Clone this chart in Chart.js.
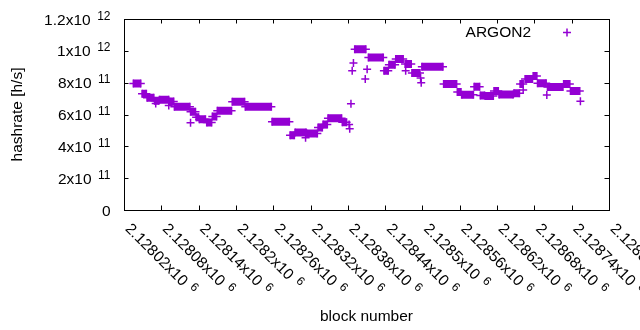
<!DOCTYPE html>
<html>
<head>
<meta charset="utf-8">
<script src="https://cdn.jsdelivr.net/npm/chart.js@4.4.1/dist/chart.umd.min.js"></script>
<style>
  html, body { margin:0; padding:0; background:#fff; }
  canvas { display:block; }
</style>
</head>
<body>
<canvas id="hashChart" width="640" height="330"></canvas>
<script>
// runs of blocks sharing one hashrate value (they merge into solid bars)
const runStart = [2128035,2128049,2128057,2128069,2128077,2128093,2128101,2128127,2128136,2128141,
  2128153,2128162,2128170,2128194,2128215,2128258,2128287,2128295,2128314,2128332,
  2128340,2128348,2128371,2128391,2128413,2128438,2128446,2128457,2128472,2128483,
  2128499,2128534,2128556,2128563,2128583,2128593,2128601,2128615,2128623,2128647,
  2128657,2128665,2128678,2128685,2128701,2128727,2128738];
const runEnd = [2128047,2128056,2128068,2128076,2128092,2128100,2128126,2128135,2128140,2128151,
  2128161,2128169,2128193,2128214,2128257,2128286,2128294,2128313,2128331,2128339,
  2128347,2128370,2128378,2128409,2128437,2128445,2128456,2128469,2128482,2128496,
  2128533,2128555,2128562,2128582,2128592,2128600,2128614,2128622,2128646,2128656,
  2128662,2128677,2128684,2128699,2128726,2128737,2128753];
const runRate = [7.95e11,7.3e11,7.05e11,6.86e11,6.92e11,6.81e11,6.48e11,6.17e11,5.83e11,5.7e11,
  5.5e11,5.87e11,6.23e11,6.8e11,6.48e11,5.55e11,4.69e11,4.87e11,4.81e11,5.19e11,
  5.37e11,5.77e11,5.52e11,1.01e12,9.58e11,8.75e11,9.13e11,9.48e11,9.17e11,8.6e11,
  9.0e11,7.92e11,7.42e11,7.24e11,7.75e11,7.19e11,7.17e11,7.48e11,7.25e11,7.33e11,
  7.92e11,8.23e11,8.42e11,7.96e11,7.73e11,7.92e11,7.48e11];

// single blocks away from the bars
const dotBlock = [2128071,2128092,2128127,2128312,2128382,2128383,2128385,2128387,2128389,
  2128408,2128411,2128473,2128497,2128498,2128662,2128700,2128754];
const dotRate = [6.69e11,6.56e11,5.48e11,4.54e11,5.37e11,5.1e11,6.67e11,8.75e11,9.23e11,
  8.23e11,8.85e11,8.75e11,8.29e11,8.0e11,7.54e11,7.23e11,6.83e11];

const xTickValues = [2128020,2128080,2128140,2128200,2128260,2128320,2128380,
  2128440,2128500,2128560,2128620,2128680,2128740,2128800];
const xTickText = ["2.12802x10","2.12808x10","2.12814x10","2.1282x10","2.12826x10","2.12832x10","2.12838x10",
  "2.12844x10","2.1285x10","2.12856x10","2.12862x10","2.12868x10","2.12874x10","2.1288x10"];
const xTickExp = "6";

const yTickValues = [0,2e11,4e11,6e11,8e11,1e12,1.2e12];
const yTickText = ["0","2x10","4x10","6x10","8x10","1x10","1.2x10"];
const yTickExp = ["","11","11","11","11","12","12"];

const seriesName = "ARGON2";
const purple = "#9400D3";
const FONT = '"Liberation Sans", Arial, sans-serif';

function buildRunPoints(){
  const points = [];
  runStart.forEach((start,i) => {
    points.push({ x:start, y:runRate[i] });
    points.push({ x:runEnd[i], y:runRate[i] });
    points.push({ x:runEnd[i], y:null });
  });
  return points;
}

function drawCross(ctx, x, y, r){
  ctx.beginPath();
  ctx.moveTo(x - r, y); ctx.lineTo(x + r, y);
  ctx.moveTo(x, y - r); ctx.lineTo(x, y + r);
  ctx.stroke();
}

const gnuplotFrame = {
  id:"gnuplotFrame",
  afterDraw(chart){
    const { ctx, chartArea:a, scales } = chart;
    const xs = scales.x, ys = scales.y;
    const tick = 4.5;

    ctx.save();
    ctx.strokeStyle = "#000";
    ctx.lineWidth = 1;
    ctx.strokeRect(a.left + 0.5, a.top + 0.5, a.right - a.left, a.bottom - a.top);

    ctx.beginPath();
    yTickValues.forEach(v => {
      const py = Math.round(ys.getPixelForValue(v)) + 0.5;
      ctx.moveTo(a.left, py); ctx.lineTo(a.left + tick, py);
      ctx.moveTo(a.right, py); ctx.lineTo(a.right - tick, py);
    });
    xTickValues.forEach(v => {
      const px = Math.round(xs.getPixelForValue(v)) + 0.5;
      ctx.moveTo(px, a.bottom); ctx.lineTo(px, a.bottom - tick);
      ctx.moveTo(px, a.top); ctx.lineTo(px, a.top + tick);
    });
    ctx.stroke();

    ctx.fillStyle = "#000";

    // y tick labels, right aligned, with raised exponent
    yTickValues.forEach((v,i) => {
      const py = ys.getPixelForValue(v);
      const right = a.left - 13.5;
      ctx.textAlign = "right";
      ctx.textBaseline = "alphabetic";
      if(yTickExp[i]){
        ctx.font = "12px " + FONT;
        ctx.fillText(yTickExp[i], right, py + 0.5);
        const w = ctx.measureText(yTickExp[i]).width;
        ctx.font = "15.5px " + FONT;
        ctx.fillText(yTickText[i], right - w - 6.5, py + 5.5);
      } else {
        ctx.font = "15.5px " + FONT;
        ctx.fillText(yTickText[i], right, py + 5.5);
      }
    });

    // x tick labels hanging down to the right
    xTickValues.forEach((v,i) => {
      const px = xs.getPixelForValue(v);
      ctx.save();
      ctx.translate(px + 0.5, a.bottom + 19.5);
      ctx.rotate(Math.PI / 4);
      ctx.textAlign = "left";
      ctx.textBaseline = "alphabetic";
      ctx.font = "15.5px " + FONT;
      ctx.fillText(xTickText[i], 0, 0);
      const w = ctx.measureText(xTickText[i]).width;
      ctx.font = "12px " + FONT;
      ctx.fillText(xTickExp, w + 6, -5);
      ctx.restore();
    });

    // axis titles
    ctx.font = "15.5px " + FONT;
    ctx.textAlign = "center";
    ctx.textBaseline = "alphabetic";
    ctx.fillText("block number", (a.left + a.right) / 2, 320.5);

    ctx.save();
    ctx.translate(22, (a.top + a.bottom) / 2);
    ctx.rotate(-Math.PI / 2);
    ctx.fillText("hashrate [h/s]", 0, 0);
    ctx.restore();

    // key
    ctx.textAlign = "right";
    ctx.fillText(seriesName, 531, 37);
    ctx.strokeStyle = purple;
    ctx.lineWidth = 1.5;
    drawCross(ctx, 567, 32.5, 4);

    ctx.restore();
  }
};

function renderChart(){
  const ctx = document.getElementById("hashChart").getContext("2d");

  new Chart(ctx,{
    type:"scatter",
    data:{
      datasets:[
        {
          label:seriesName,
          data:buildRunPoints(),
          showLine:true,
          spanGaps:false,
          borderColor:purple,
          borderWidth:8,
          borderCapStyle:"butt",
          pointStyle:"cross",
          pointRadius:4,
          pointBorderWidth:1.5,
          pointBorderColor:purple,
          pointBackgroundColor:purple
        },
        {
          label:seriesName + " single",
          data:dotBlock.map((b,i) => ({ x:b, y:dotRate[i] })),
          showLine:false,
          pointStyle:"cross",
          pointRadius:4,
          pointBorderWidth:1.5,
          pointBorderColor:purple,
          pointBackgroundColor:purple
        }
      ]
    },
    options:{
      responsive:false,
      animation:false,
      layout:{ padding:{ left:124, right:31, top:19, bottom:120 } },
      plugins:{
        legend:{ display:false },
        tooltip:{ enabled:false }
      },
      scales:{
        x:{ type:"linear", display:false, min:2128020, max:2128800 },
        y:{ type:"linear", display:false, min:0, max:1.2e12 }
      }
    },
    plugins:[gnuplotFrame]
  });
}

document.addEventListener("DOMContentLoaded", renderChart);
</script>
</body>
</html>
